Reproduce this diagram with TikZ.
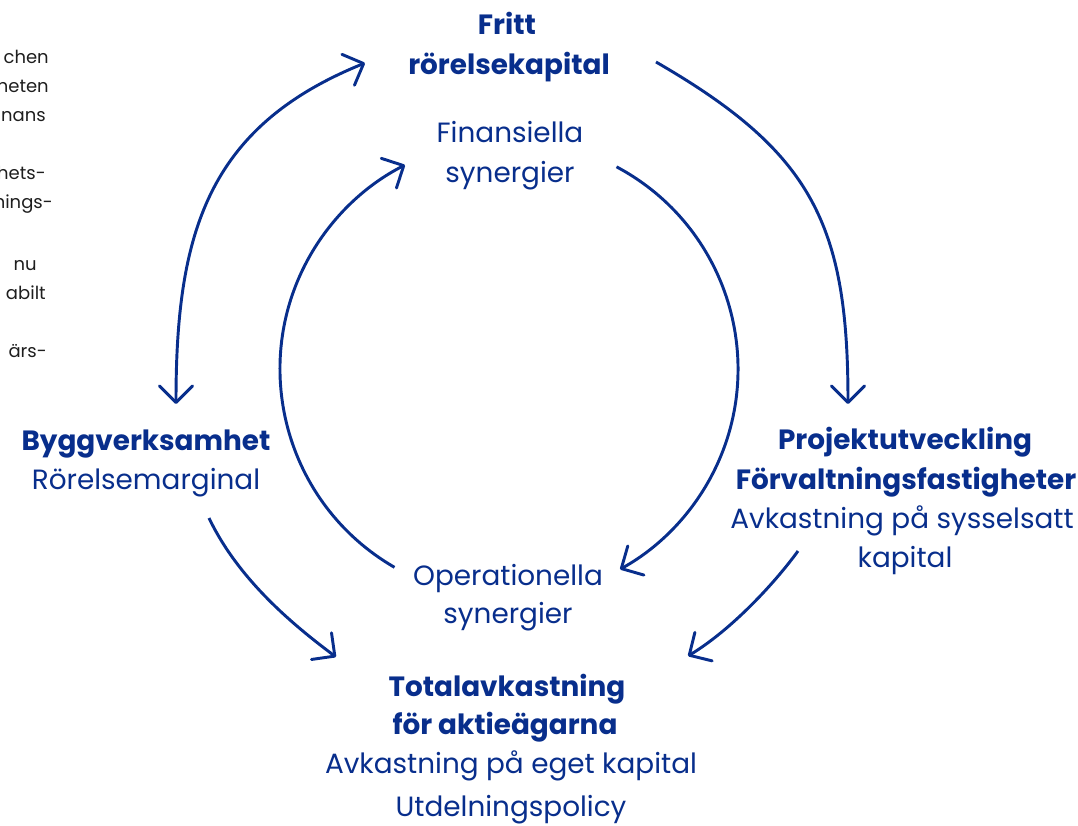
\documentclass[tikz,border=0pt]{standalone}
\usepackage{fontspec}
\setmainfont{Poppins}
\usetikzlibrary{arrows.meta,calc}
\definecolor{navy}{RGB}{8,46,140}
\definecolor{fragc}{RGB}{30,30,30}
\tikzset{
  lbl/.style={text=navy, font=\fontsize{20.9}{24}\selectfont, anchor=base, inner sep=0pt},
  hd/.style={lbl, font=\fontsize{20.9}{24}\selectfont\bfseries},
  frag/.style={text=fragc, font=\fontsize{13.5}{16}\selectfont, anchor=base east, inner sep=0pt},
  tip/.tip={Straight Barb[length=12.5pt, width=25pt, round]},
  conn/.style={draw=navy, line width=2.2pt, -tip},
  conn2/.style={draw=navy, line width=2.2pt, tip-tip}
}
\begin{document}
\begin{tikzpicture}[x=0.75pt, y=-0.75pt]
\useasboundingbox (0,0) rectangle (1078,825);
\clip (0,0) rectangle (1078,825);

% left cut-off column fragments
\node[frag] (f1) at (49,63) {chen};
\node[frag] (f2) at (49,92) {heten};
\node[frag] (f3) at (46,121) {nans};
\node[frag] (f4) at (46,179) {hets-};
\node[frag] (f5) at (53,208) {nings-};
\node[frag] (f6) at (37,270) {nu};
\node[frag] (f7) at (46,299) {abilt};
\node[frag] (f8) at (47,357) {ärs-};

% labels
\node[hd] (t1) at (507,34) {Fritt};
\node[hd] (t2) at (509,74) {rörelsekapital};
\node[lbl] (fin1) at (510,142) {Finansiella};
\node[lbl] (fin2) at (510,182) {synergier};

\node[hd] (b1) at (146,450) {Byggverksamhet};
\node[lbl] (b2) at (146,489) {Rörelsemarginal};

\node[hd] (p1) at (905,449) {Projektutveckling};
\node[hd] (p2) at (906,489) {Förvaltningsfastigheter};
\node[lbl] (p3) at (902,528) {Avkastning på sysselsatt};
\node[lbl] (p4) at (905,567) {kapital};

\node[lbl] (op1) at (508,585) {Operationella};
\node[lbl] (op2) at (508,623) {synergier};

\node[hd] (tot1) at (507,696) {Totalavkastning};
\node[hd] (tot2) at (505,734) {för aktieägarna};
\node[lbl] (tot3) at (511,773) {Avkastning på eget kapital};
\node[lbl] (tot4) at (511,816) {Utdelningspolicy};

% connector end points
\coordinate (c) at (509,369);
\coordinate (lo1) at (176,404);
\coordinate (lo2) at (365,63);
\coordinate (ro1) at (656,62);
\coordinate (ro2) at (848,404);
\coordinate (ll1) at (209,518);
\coordinate (ll2) at (336,657);
\coordinate (lr1) at (798,551);
\coordinate (lr2) at (688,656);

% outer arrows
\draw[conn2] (lo1) .. controls (176,234) and (207,127) .. (lo2);
\draw[conn] (ro1) .. controls (812,152) and (848,224) .. (ro2);
\draw[conn] (ll1) .. controls (239,581) and (296,627) .. (ll2);
\draw[conn] (lr1) .. controls (774,584) and (731,630) .. (lr2);

% inner arrows (arcs around the centre)
\draw[conn] ([shift={(-62:229)}]c) arc[start angle=62, end angle=-61, radius=171.75pt];
\draw[conn] ([shift={(120:229)}]c) arc[start angle=240, end angle=117, radius=171.75pt];
\end{tikzpicture}
\end{document}
